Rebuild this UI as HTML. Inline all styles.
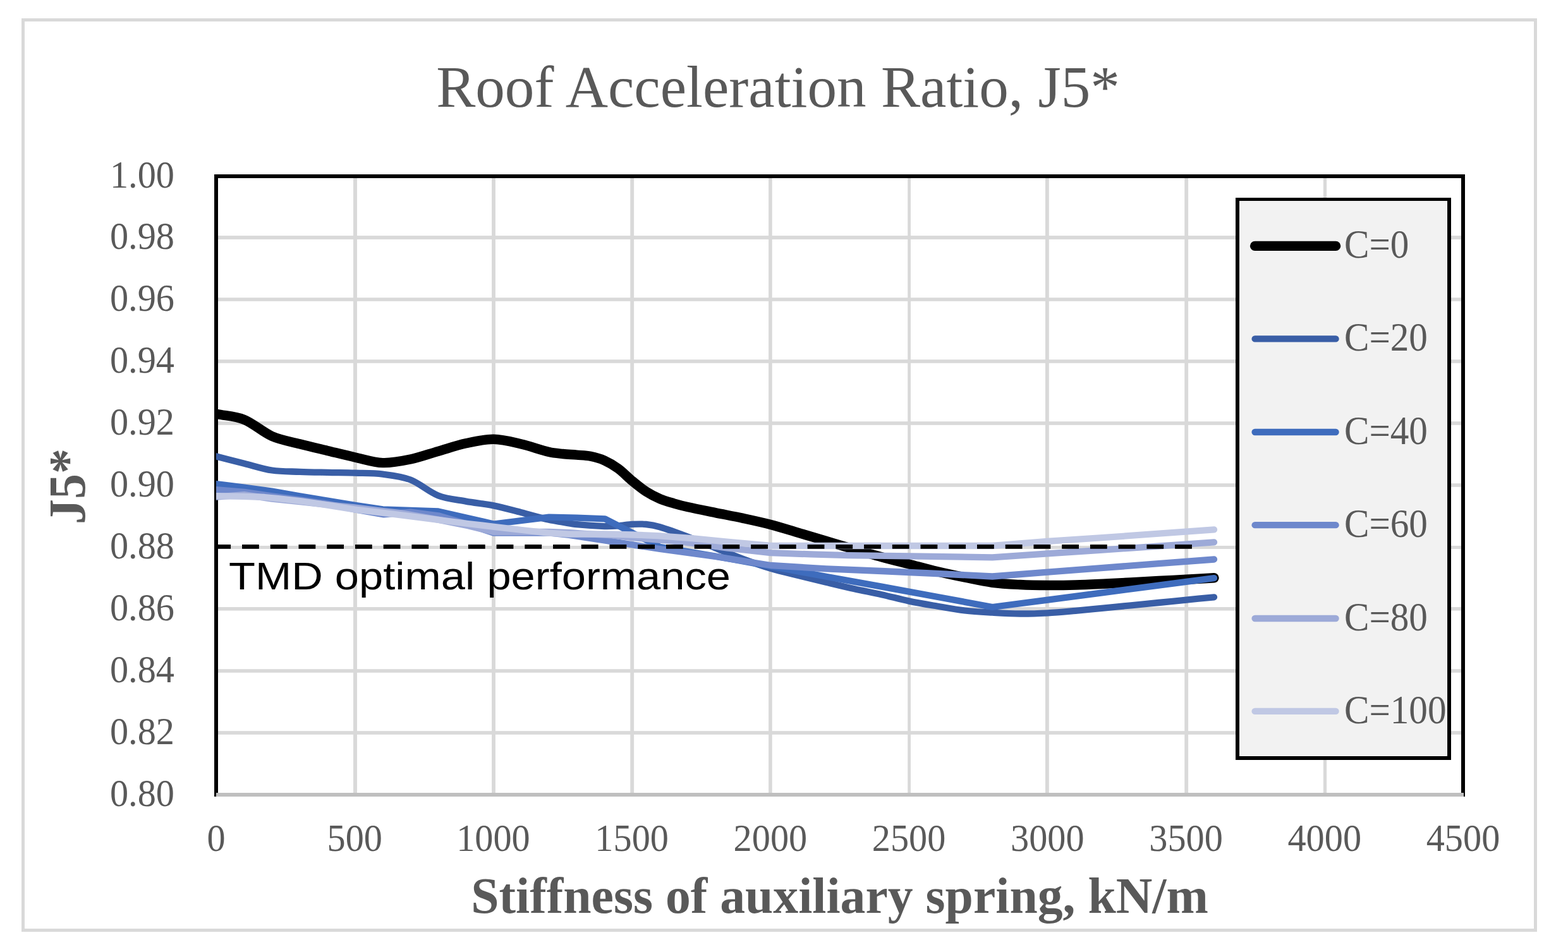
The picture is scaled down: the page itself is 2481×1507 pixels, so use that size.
<!DOCTYPE html>
<html lang="en">
<head>
<meta charset="utf-8">
<title>Roof Acceleration Ratio, J5*</title>
<style>
html,body{margin:0;padding:0;background:#fff;}
body{width:2481px;height:1507px;overflow:hidden;}
svg{display:block;}
</style>
</head>
<body>
<svg xmlns="http://www.w3.org/2000/svg" width="2481" height="1507" viewBox="0 0 2481 1507">
<rect x="0" y="0" width="2481" height="1507" fill="#ffffff"/>
<rect x="36.5" y="31.5" width="2393.0" height="1441.0" fill="none" stroke="#d9d9d9" stroke-width="5"/>
<g fill="#d9d9d9">
<rect x="342.0" y="373.10" width="1973.0" height="5.8"/>
<rect x="342.0" y="471.20" width="1973.0" height="5.6"/>
<rect x="342.0" y="569.20" width="1973.0" height="5.6"/>
<rect x="342.0" y="667.20" width="1973.0" height="5.6"/>
<rect x="342.0" y="765.20" width="1973.0" height="5.6"/>
<rect x="342.0" y="863.95" width="1973.0" height="5.0"/>
<rect x="342.0" y="961.00" width="1973.0" height="5.6"/>
<rect x="342.0" y="1059.20" width="1973.0" height="5.6"/>
<rect x="342.0" y="1157.20" width="1973.0" height="5.6"/>
<rect x="559.05" y="279.0" width="5.9" height="979.0"/>
<rect x="778.10" y="279.0" width="5.8" height="979.0"/>
<rect x="997.30" y="279.0" width="5.8" height="979.0"/>
<rect x="1216.10" y="279.0" width="5.6" height="979.0"/>
<rect x="1436.20" y="279.0" width="4.8" height="979.0"/>
<rect x="1654.00" y="279.0" width="5.8" height="979.0"/>
<rect x="1874.30" y="279.0" width="5.8" height="979.0"/>
<rect x="2093.90" y="279.0" width="5.2" height="979.0"/>
</g>
<rect x="342.0" y="279.0" width="1973.0" height="979.0" fill="none" stroke="#000" stroke-width="6"/>
<rect x="342.0" y="1255" width="1974.0" height="6" fill="#bfbfbf"/>
<clipPath id="plotclip"><rect x="342" y="279" width="1973" height="979"/></clipPath>
<g clip-path="url(#plotclip)" fill="none" stroke-linecap="round" stroke-linejoin="round">
<path d="M342.60,655.30 C357.21,658.30 371.83,658.43 386.44,664.30 C401.06,670.17 415.67,684.10 430.29,690.50 C444.90,696.90 459.52,698.88 474.13,702.70 C488.75,706.52 503.36,709.87 517.98,713.40 C532.59,716.93 547.21,720.70 561.82,723.90 C576.44,727.10 591.05,732.08 605.67,732.60 C620.28,733.12 634.90,730.05 649.51,727.00 C664.13,723.95 678.74,718.50 693.36,714.30 C707.97,710.10 722.59,704.97 737.20,701.80 C751.81,698.63 766.43,695.10 781.04,695.30 C795.66,695.50 810.27,699.63 824.89,703.00 C839.50,706.37 854.12,712.06 868.73,715.50 C876.04,717.22 883.35,717.72 890.66,718.50 C897.96,719.28 905.27,719.57 912.58,720.20 C919.89,720.83 927.19,720.83 934.50,722.30 C941.81,723.77 949.11,725.73 956.42,729.00 C963.73,732.27 971.04,736.53 978.34,741.90 C985.65,747.27 992.96,755.18 1000.27,761.20 C1007.57,767.22 1014.88,773.27 1022.19,778.00 C1029.50,782.73 1036.80,786.47 1044.11,789.60 C1051.42,792.73 1058.73,794.65 1066.03,796.80 C1073.34,798.95 1080.65,800.86 1087.96,802.50 C1102.57,805.79 1117.19,808.62 1131.80,811.60 C1146.41,814.58 1161.03,817.25 1175.64,820.40 C1190.26,823.55 1204.87,826.67 1219.49,830.50 C1234.10,834.33 1248.72,839.08 1263.33,843.40 C1277.95,847.72 1292.56,852.08 1307.18,856.40 C1321.79,860.72 1336.41,865.08 1351.02,869.30 C1365.64,873.52 1380.25,877.73 1394.87,881.70 C1409.48,885.67 1424.10,889.30 1438.71,893.10 C1453.33,896.90 1467.94,901.02 1482.56,904.50 C1497.17,907.98 1511.79,911.03 1526.40,914.00 C1541.01,916.97 1555.63,920.38 1570.24,922.30 C1584.86,924.22 1599.47,924.80 1614.09,925.50 C1628.70,926.20 1643.32,926.42 1657.93,926.50 C1672.55,926.58 1687.16,926.38 1701.78,926.00 C1716.39,925.62 1731.01,924.88 1745.62,924.20 C1760.24,923.52 1774.85,922.68 1789.47,921.90 C1804.08,921.12 1818.70,920.28 1833.31,919.50 C1847.93,918.72 1862.54,917.98 1877.16,917.20 C1891.77,916.42 1906.39,915.60 1921.00,914.80" stroke="#000000" stroke-width="15.4"/>
<path d="M342.60,722.50 C357.21,726.23 371.83,730.03 386.44,733.70 C401.06,737.37 415.67,742.32 430.29,744.50 C444.90,746.68 459.52,746.23 474.13,746.80 C488.75,747.37 503.36,747.58 517.98,747.90 C532.59,748.22 547.21,748.25 561.82,748.70 C576.44,749.15 591.05,748.80 605.67,750.60 C620.28,752.40 634.90,753.85 649.51,759.50 C664.13,765.15 678.74,778.82 693.36,784.50 C707.97,790.18 722.59,790.95 737.20,793.60 C751.81,796.25 766.43,797.45 781.04,800.40 C795.66,803.35 810.27,807.57 824.89,811.30 C839.50,815.03 854.12,819.40 868.73,822.80 C876.04,824.50 883.35,825.37 890.66,826.60 C897.96,827.83 905.27,829.48 912.58,830.20 C927.19,831.64 941.81,832.61 956.42,833.10 C963.73,833.34 971.04,832.93 978.34,832.40 C985.65,831.87 992.96,830.30 1000.27,829.90 C1007.57,829.50 1014.88,829.28 1022.19,830.00 C1029.50,830.72 1036.80,832.02 1044.11,834.20 C1058.73,838.56 1073.34,844.07 1087.96,849.60 C1102.57,855.13 1117.19,861.53 1131.80,867.40 C1146.41,873.27 1161.03,879.40 1175.64,884.80 C1190.26,890.20 1204.87,895.43 1219.49,899.80 C1234.10,904.17 1248.72,907.35 1263.33,911.00 C1277.95,914.65 1292.56,918.20 1307.18,921.70 C1321.79,925.20 1336.41,928.75 1351.02,932.00 C1365.64,935.25 1380.25,937.93 1394.87,941.20 C1409.48,944.47 1424.10,948.55 1438.71,951.60 C1453.33,954.65 1467.94,957.02 1482.56,959.50 C1497.17,961.98 1511.79,964.80 1526.40,966.50 C1541.01,968.20 1555.63,968.87 1570.24,969.70 C1584.86,970.53 1599.47,971.40 1614.09,971.50 C1628.70,971.60 1643.32,971.08 1657.93,970.30 C1672.55,969.52 1687.16,968.08 1701.78,966.80 C1716.39,965.52 1731.01,964.02 1745.62,962.60 C1760.24,961.18 1774.85,959.73 1789.47,958.30 C1804.08,956.87 1818.70,955.45 1833.31,954.00 C1847.93,952.55 1862.54,951.05 1877.16,949.60 C1891.77,948.15 1906.39,946.73 1921.00,945.30" stroke="#395ea6" stroke-width="10.3"/>
<path d="M342.00,766.10 L386.40,771.50 L430.30,777.60 L474.10,785.20 L518.00,792.70 L561.80,799.90 L605.70,806.30 L693.40,809.40 L781.00,829.50 L868.70,818.70 L912.60,819.60 L957.20,821.30 L1044.10,865.80 L1131.80,880.50 L1219.50,896.50 L1307.20,912.70 L1394.90,928.60 L1482.50,944.80 L1570.20,961.00 L1657.90,949.60 L1745.60,938.10 L1833.30,926.60 L1921.00,915.20" stroke="#3e6cbd" stroke-width="10.3"/>
<path d="M342.00,775.10 L386.40,778.80 L430.30,785.30 L476.70,791.60 L518.00,797.50 L561.80,806.50 L607.20,814.40 L649.50,810.60 L693.40,816.30 L737.20,829.00 L781.00,843.50 L868.70,843.50 L900.60,846.80 L956.40,855.40 L1044.10,869.00 L1131.80,880.80 L1219.50,895.00 L1307.20,900.30 L1394.90,904.00 L1482.50,908.00 L1570.20,912.50 L1657.90,905.60 L1745.60,898.80 L1833.30,892.20 L1921.00,885.50" stroke="#6e88cc" stroke-width="10.3"/>
<path d="M342.00,786.70 L386.40,783.20 L430.30,789.60 L476.70,794.30 L518.00,799.00 L560.60,803.40 L605.70,809.00 L633.60,812.10 L693.40,822.60 L740.60,832.30 L781.00,842.00 L868.70,842.00 L900.60,843.10 L924.40,844.90 L968.30,847.40 L1001.10,851.10 L1026.70,853.30 L1060.60,856.20 L1094.70,859.70 L1150.20,867.30 L1219.50,875.20 L1282.40,877.40 L1343.20,879.10 L1439.00,880.30 L1570.20,882.30 L1657.30,876.40 L1740.60,870.90 L1921.00,858.40" stroke="#9daad8" stroke-width="10.3"/>
<path d="M342.00,785.20 L385.40,785.90 L418.30,787.00 L440.20,789.20 L476.70,793.30 L510.60,798.40 L560.60,806.30 L619.00,813.30 L670.20,819.90 L740.60,829.00 L781.60,833.80 L830.20,839.50 L866.70,843.70 L900.60,845.70 L953.60,845.30 L1001.10,846.50 L1040.60,848.10 L1094.70,852.10 L1150.20,857.60 L1219.50,864.00 L1570.20,864.00 L1657.30,856.90 L1740.60,851.40 L1921.00,838.40" stroke="#c0c8e4" stroke-width="10.3"/>
</g>
<line x1="342" y1="865.45" x2="1886.05" y2="865.45" stroke="#000" stroke-width="6.7" stroke-dasharray="26.8 17.93" stroke-dashoffset="3.7"/>
<rect x="1955" y="313" width="341" height="890" fill="#ffffff"/>
<rect x="1958" y="316" width="330.8" height="879.8" fill="#f2f2f2"/>
<g fill="#000"><rect x="1955" y="313" width="341" height="5"/><rect x="1955" y="1197" width="341" height="6"/><rect x="1955" y="313" width="6" height="890"/><rect x="2290" y="313" width="6" height="890"/></g>
<line x1="1985.6" y1="389.4" x2="2113.6" y2="389.4" stroke="#000000" stroke-width="15.4" stroke-linecap="round"/>
<text transform="translate(2126.90,408.00) scale(1,1.08)" font-family="'Liberation Serif', serif" font-size="59.2" fill="#595959">C=0</text>
<line x1="1985.6" y1="536.4" x2="2113.6" y2="536.4" stroke="#395ea6" stroke-width="10.3" stroke-linecap="round"/>
<text transform="translate(2126.90,555.00) scale(1,1.08)" font-family="'Liberation Serif', serif" font-size="59.2" fill="#595959">C=20</text>
<line x1="1985.6" y1="684.0" x2="2113.6" y2="684.0" stroke="#3e6cbd" stroke-width="10.3" stroke-linecap="round"/>
<text transform="translate(2126.90,702.60) scale(1,1.08)" font-family="'Liberation Serif', serif" font-size="59.2" fill="#595959">C=40</text>
<line x1="1985.6" y1="831.2" x2="2113.6" y2="831.2" stroke="#6e88cc" stroke-width="10.3" stroke-linecap="round"/>
<text transform="translate(2126.90,849.80) scale(1,1.08)" font-family="'Liberation Serif', serif" font-size="59.2" fill="#595959">C=60</text>
<line x1="1985.6" y1="979.0" x2="2113.6" y2="979.0" stroke="#9daad8" stroke-width="10.3" stroke-linecap="round"/>
<text transform="translate(2126.90,997.60) scale(1,1.08)" font-family="'Liberation Serif', serif" font-size="59.2" fill="#595959">C=80</text>
<line x1="1985.6" y1="1125.9" x2="2113.6" y2="1125.9" stroke="#c0c8e4" stroke-width="10.3" stroke-linecap="round"/>
<text transform="translate(2126.90,1144.50) scale(1,1.08)" font-family="'Liberation Serif', serif" font-size="59.2" fill="#595959">C=100</text>
<text transform="translate(1231.00,168.60)" text-anchor="middle" font-family="'Liberation Serif', serif" font-size="93.2" fill="#595959">Roof Acceleration Ratio, J5*</text>
<text transform="translate(276.00,296.50) scale(1,1.045)" text-anchor="end" font-family="'Liberation Serif', serif" font-size="58.33" fill="#595959">1.00</text>
<text transform="translate(276.00,394.40) scale(1,1.045)" text-anchor="end" font-family="'Liberation Serif', serif" font-size="58.33" fill="#595959">0.98</text>
<text transform="translate(276.00,492.30) scale(1,1.045)" text-anchor="end" font-family="'Liberation Serif', serif" font-size="58.33" fill="#595959">0.96</text>
<text transform="translate(276.00,590.20) scale(1,1.045)" text-anchor="end" font-family="'Liberation Serif', serif" font-size="58.33" fill="#595959">0.94</text>
<text transform="translate(276.00,688.10) scale(1,1.045)" text-anchor="end" font-family="'Liberation Serif', serif" font-size="58.33" fill="#595959">0.92</text>
<text transform="translate(276.00,786.00) scale(1,1.045)" text-anchor="end" font-family="'Liberation Serif', serif" font-size="58.33" fill="#595959">0.90</text>
<text transform="translate(276.00,883.90) scale(1,1.045)" text-anchor="end" font-family="'Liberation Serif', serif" font-size="58.33" fill="#595959">0.88</text>
<text transform="translate(276.00,981.80) scale(1,1.045)" text-anchor="end" font-family="'Liberation Serif', serif" font-size="58.33" fill="#595959">0.86</text>
<text transform="translate(276.00,1079.70) scale(1,1.045)" text-anchor="end" font-family="'Liberation Serif', serif" font-size="58.33" fill="#595959">0.84</text>
<text transform="translate(276.00,1177.60) scale(1,1.045)" text-anchor="end" font-family="'Liberation Serif', serif" font-size="58.33" fill="#595959">0.82</text>
<text transform="translate(276.00,1275.50) scale(1,1.045)" text-anchor="end" font-family="'Liberation Serif', serif" font-size="58.33" fill="#595959">0.80</text>
<text transform="translate(342.00,1346.90) scale(1,1.035)" text-anchor="middle" font-family="'Liberation Serif', serif" font-size="58.33" fill="#595959">0</text>
<text transform="translate(561.22,1346.90) scale(1,1.035)" text-anchor="middle" font-family="'Liberation Serif', serif" font-size="58.33" fill="#595959">500</text>
<text transform="translate(780.44,1346.90) scale(1,1.035)" text-anchor="middle" font-family="'Liberation Serif', serif" font-size="58.33" fill="#595959">1000</text>
<text transform="translate(999.67,1346.90) scale(1,1.035)" text-anchor="middle" font-family="'Liberation Serif', serif" font-size="58.33" fill="#595959">1500</text>
<text transform="translate(1218.89,1346.90) scale(1,1.035)" text-anchor="middle" font-family="'Liberation Serif', serif" font-size="58.33" fill="#595959">2000</text>
<text transform="translate(1438.11,1346.90) scale(1,1.035)" text-anchor="middle" font-family="'Liberation Serif', serif" font-size="58.33" fill="#595959">2500</text>
<text transform="translate(1657.33,1346.90) scale(1,1.035)" text-anchor="middle" font-family="'Liberation Serif', serif" font-size="58.33" fill="#595959">3000</text>
<text transform="translate(1876.56,1346.90) scale(1,1.035)" text-anchor="middle" font-family="'Liberation Serif', serif" font-size="58.33" fill="#595959">3500</text>
<text transform="translate(2095.78,1346.90) scale(1,1.035)" text-anchor="middle" font-family="'Liberation Serif', serif" font-size="58.33" fill="#595959">4000</text>
<text transform="translate(2315.00,1346.90) scale(1,1.035)" text-anchor="middle" font-family="'Liberation Serif', serif" font-size="58.33" fill="#595959">4500</text>
<text transform="translate(1328.50,1445.00)" text-anchor="middle" font-family="'Liberation Serif', serif" font-size="79.7" font-weight="bold" fill="#595959">Stiffness of auxiliary spring, kN/m</text>
<text transform="translate(134.40,770.00) rotate(-90) scale(1,1.04)" text-anchor="middle" font-family="'Liberation Serif', serif" font-size="80" font-weight="bold" fill="#595959">J5*</text>
<text transform="translate(362.00,932.80)" font-family="'Liberation Sans', sans-serif" font-size="62" fill="#000" textLength="794" lengthAdjust="spacingAndGlyphs">TMD optimal performance</text>
</svg>
</body>
</html>
